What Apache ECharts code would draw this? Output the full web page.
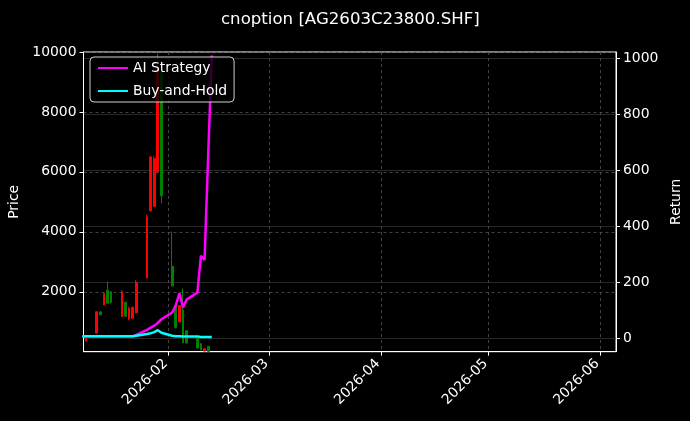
<!DOCTYPE html>
<html>
<head>
<meta charset="utf-8">
<script src="https://cdn.jsdelivr.net/npm/echarts@6/dist/echarts.min.js"></script>
<style>
html,body{margin:0;padding:0;background:#000;}
#c{width:690px;height:421px;}
</style>
</head>
<body>
<div id="c"></div>
<script>
// ---- data ----
const candleDates = ['2026-01-09','2026-01-12','2026-01-13','2026-01-14','2026-01-15','2026-01-16',
  '2026-01-19','2026-01-20','2026-01-21','2026-01-22','2026-01-23',
  '2026-01-26','2026-01-27','2026-01-28','2026-01-29','2026-01-30',
  '2026-02-02','2026-02-03','2026-02-04','2026-02-05','2026-02-06',
  '2026-02-09','2026-02-10','2026-02-11','2026-02-12'];
const openPx  = [360, 620,1330,1560,2050,2000,1170,1650,1100,1120,1300,2460,4700,4850,6000,9300,2850,1550,1000,1400,700,440,270, 20,180];
const closePx = [440,1330,1230,1950,1620,1650,2000,1180,1450,1480,2300,4500,6500,6450,9400,5200,2200, 800,1540, 300,290,120, 60,100, 10];
const lowPx   = [350, 610,1220,1550,1610,1610,1160,1160,1050,1110,1280,2450,4680,4840,5960,4960,2170, 780, 990, 280,270,100, 50, 10,  5];
const highPx  = [445,1340,1340,1960,2340,2010,2060,1670,1500,1500,2390,4570,6520,6520,9950,9350,4010,1560,1560,2110,720,450,280,107,185];

const lineDates = ['2026-01-08','2026-01-09','2026-01-12','2026-01-13','2026-01-14','2026-01-15','2026-01-16',
  '2026-01-19','2026-01-20','2026-01-21','2026-01-22','2026-01-23',
  '2026-01-26','2026-01-27','2026-01-28','2026-01-29','2026-01-30',
  '2026-02-02','2026-02-03','2026-02-04','2026-02-05','2026-02-06',
  '2026-02-09','2026-02-10','2026-02-11','2026-02-12','2026-02-13'];
const aiReturn = [6,7,7,7,7,7,7,7,7,7,7,12,30,38,45,55,68,92,118,161,110,138,163,295,280,650,1010];
const bhReturn = [6,7,7,7,7,7,7,7,7,7,7,9,15,18,22,29,20,9,7,7,6,6,6,5,5,5,5];

const priceTicks = [2000,4000,6000,8000,10000];
const returnTicks = [0,200,400,600,800,1000];

const titleText = 'cnoption [AG2603C23800.SHF]';

// ---- chart ----
const FONT = 'DejaVu Sans';
const chart = echarts.init(document.getElementById('c'), null, {renderer:'canvas'});
const candleData = candleDates.map((d,i)=>[d, openPx[i], closePx[i], lowPx[i], highPx[i]]);
const aiData = lineDates.map((d,i)=>[d, aiReturn[i]]);
const bhData = lineDates.map((d,i)=>[d, bhReturn[i]]);
const plain = v => String(v);

chart.setOption({
  backgroundColor:'#000',
  animation:false,
  textStyle:{fontFamily:FONT},
  title:{text:titleText,left:216,top:6,
    textStyle:{color:'#fff',fontSize:16.6,fontWeight:'normal',fontFamily:FONT}},
  grid:{left:83.5,right:74,top:52,bottom:69.3,outerBoundsMode:'none',containLabel:false,
    show:true,borderColor:'#fff',borderWidth:1,backgroundColor:'transparent'},
  legend:{left:90,top:57,orient:'vertical',padding:[4,7],itemWidth:30,itemHeight:14,itemGap:9,
    backgroundColor:'rgba(0,0,0,0.8)',borderColor:'#d0d0d0',borderWidth:1,borderRadius:4,
    itemStyle:{opacity:0},
    data:['AI Strategy','Buy-and-Hold'],
    textStyle:{color:'#fff',fontSize:13.9,fontFamily:FONT}},
  xAxis:{type:'time',min:'2026-01-08 08:00',max:'2026-06-05 10:00',
    axisLine:{show:true,lineStyle:{color:'#fff',width:1}},
    axisTick:{show:true,length:4,lineStyle:{color:'#fff'}},
    axisLabel:{color:'#fff',fontSize:13.9,fontFamily:FONT,rotate:45,margin:7,padding:[0,4,0,0],
      formatter:(v)=>echarts.time.format(v,'{yyyy}-{MM}',false)},
    splitLine:{show:true,lineStyle:{color:'#555',type:[3,3],width:0.8}},
    minorTick:{show:false}},
  yAxis:[
    {type:'value',min:0,max:10000,position:'left',
      name:'Price',nameLocation:'middle',nameGap:55,
      nameTextStyle:{color:'#fff',fontSize:13.9,fontFamily:FONT},
      axisLine:{show:true,lineStyle:{color:'#fff'}},
      axisTick:{show:true,length:4,lineStyle:{color:'#fff'},customValues:priceTicks},
      axisLabel:{color:'#fff',fontSize:13.9,fontFamily:FONT,margin:7,customValues:priceTicks,formatter:plain},
      splitLine:{show:true,lineStyle:{color:'#555',type:[3,3],width:0.8}}},
    {type:'value',min:-47.9,max:1022.5,position:'right',
      name:'Return',nameLocation:'middle',nameGap:46,
      nameTextStyle:{color:'#fff',fontSize:13.9,fontFamily:FONT},
      axisLine:{show:true,lineStyle:{color:'#fff'}},
      axisTick:{show:true,length:4,lineStyle:{color:'#fff'},customValues:returnTicks},
      axisLabel:{color:'#fff',fontSize:13.9,fontFamily:FONT,margin:7,customValues:returnTicks,formatter:plain},
      splitLine:{show:true,lineStyle:{color:'#333',width:0.8}}}
  ],
  series:[
    {type:'candlestick',name:'Price',yAxisIndex:0,barWidth:2.2,data:candleData,
      itemStyle:{color:'#ff0000',color0:'#008000',borderColor:'#ff0000',borderColor0:'#008000',borderWidth:1}},
    {type:'line',name:'AI Strategy',yAxisIndex:1,data:aiData,symbol:'none',
      lineStyle:{color:'#ff00ff',width:2.5},itemStyle:{color:'#ff00ff'},z:3},
    {type:'line',name:'Buy-and-Hold',yAxisIndex:1,data:bhData,symbol:'none',
      lineStyle:{color:'#00ffff',width:2.5},itemStyle:{color:'#00ffff'},z:4}
  ]
});
</script>
</body>
</html>
